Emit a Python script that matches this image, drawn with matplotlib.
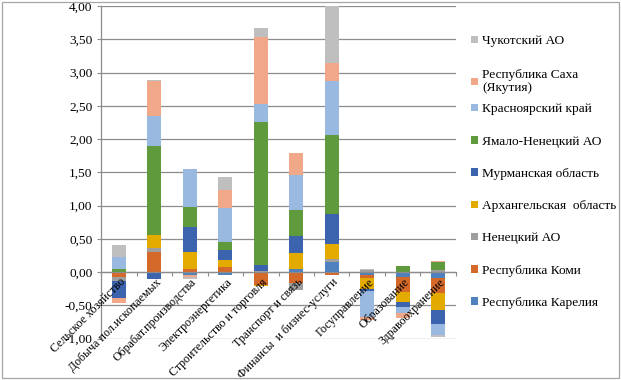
import numpy as np
import matplotlib
matplotlib.use("Agg")
import matplotlib.pyplot as plt
import matplotlib.transforms as mtransforms
from matplotlib.patches import Patch, Rectangle
from matplotlib.ticker import FuncFormatter

plt.rcParams["font.family"] = ["Liberation Serif", "DejaVu Serif"]

categories = ["Сельское хозяйство", "Добыча пол.ископаемых", "Обрабат.производства",
              "Электроэнергетика", "Строительство и торговля", "Транспорт и связь",
              "Финансы  и бизнес-услуги", "Госуправление", "Образование", "Здравоохранение"]

# series in stacking order (bottom -> top)
series_names = ["Республика Карелия", "Республика Коми", "Ненецкий АО",
                "Архангельская  область", "Мурманская область", "Ямало-Ненецкий АО",
                "Красноярский край", "Республика Саха\n(Якутия)", "Чукотский АО"]

karelia = [0, 0, -0.05, -0.04, 0, 0.045, 0.15, -0.05, -0.075, -0.085]
komi    = [-0.075, 0.305, 0.05, 0.07, -0.195, -0.165, -0.04, -0.045, -0.225, -0.23]
nenets  = [-0.06, 0.06, 0, 0.01, 0.02, -0.105, 0.04, 0.03, 0, 0.03]
arkh    = [0, 0.185, 0.255, 0.105, -0.02, 0.24, 0.23, -0.155, -0.15, -0.25]
murm    = [-0.26, -0.10, 0.37, 0.145, 0.08, 0.26, 0.45, -0.04, -0.075, -0.215]
yanao   = [0.04, 1.35, 0.30, 0.12, 2.16, 0.39, 1.19, 0, 0.09, 0.12]
krasn   = [0.18, 0.45, 0.57, 0.51, 0.27, 0.52, 0.81, -0.39, -0.09, -0.165]
sakha   = [-0.075, 0.52, -0.03, 0.27, 1.005, 0.33, 0.27, -0.045, -0.07, 0.015]
chuk    = [0.185, 0.02, -0.02, 0.195, 0.14, 0.01, 0.855, 0.02, -0.01, -0.025]

data = [karelia, komi, nenets, arkh, murm, yanao, krasn, sakha, chuk]
colors = ["#4e81bd", "#d4692a", "#9e9e9e", "#e3aa00", "#3c63ae",
          "#5f9a3c", "#99b9e0", "#f0a889", "#bfbfbf"]

GRID = "#8c8c8c"
FS = 9.6

fig = plt.figure(figsize=(6.21, 3.80), dpi=100)
fig.patches.append(Rectangle((0.003, 0.004), 0.994, 0.992, transform=fig.transFigure,
                             fill=False, edgecolor="#a6a6a6", lw=0.9))
ax = fig.add_axes([101/621, 1-338.6/380, 355/621, 332.6/380])

x = np.arange(len(categories))
pos_bottom = np.zeros(len(x)); neg_bottom = np.zeros(len(x))
for vals, c in zip(data, colors):
    v = np.array(vals, dtype=float)
    p = np.where(v > 0, v, 0); n = np.where(v < 0, v, 0)
    ax.bar(x, p, 0.4, bottom=pos_bottom, color=c, zorder=2)
    ax.bar(x, n, 0.4, bottom=neg_bottom, color=c, zorder=2)
    pos_bottom += p; neg_bottom += n

ax.set_xlim(-0.5, len(x) - 0.5)
ax.set_ylim(-1, 4)
ax.set_yticks(np.arange(-1, 4.01, 0.5))
ax.yaxis.set_major_formatter(FuncFormatter(lambda v, _: f"{v:.2f}".replace(".", ",")))
ax.set_axisbelow(True)
ax.grid(axis="y", color=GRID, lw=0.9)
ax.xaxis.set_zorder(3)

for s in ["top", "right"]:
    ax.spines[s].set_visible(False)
ax.spines["left"].set_color(GRID); ax.spines["left"].set_linewidth(0.9)
ax.spines["bottom"].set_position(("data", 0))
ax.spines["bottom"].set_color(GRID); ax.spines["bottom"].set_linewidth(0.9)

ax.tick_params(axis="y", length=3.2, color=GRID, pad=3, labelsize=FS)
ax.set_xticks(np.arange(-0.5, len(x), 1.0))
ax.set_xticklabels([])
ax.tick_params(axis="x", which="major", length=3, color=GRID, direction="out")
ax.set_xticks(x, minor=True)
ax.set_xticklabels(categories, minor=True, rotation=45, ha="right", va="center",
                   rotation_mode="anchor", fontsize=8.6)
ax.tick_params(axis="x", which="minor", length=0, pad=6)
offset = mtransforms.ScaledTranslation(5/100, 0, fig.dpi_scale_trans)
for lab in ax.get_xticklabels(minor=True):
    lab.set_transform(lab.get_transform() + offset)

handles = [Patch(facecolor=c, label=n) for c, n in zip(colors, series_names)][::-1]
leg_kw = dict(loc="upper left", frameon=False, fontsize=FS, handlelength=0.5,
              handleheight=0.5, handletextpad=0.3, borderaxespad=0)
fig.legend(handles=handles[:2], bbox_to_anchor=(466/621, 1-30/380), labelspacing=1.6, **leg_kw)
fig.legend(handles=handles[2:], bbox_to_anchor=(466/621, 1-98/380), labelspacing=1.52, **leg_kw)

plt.savefig("out.png", dpi=100)
